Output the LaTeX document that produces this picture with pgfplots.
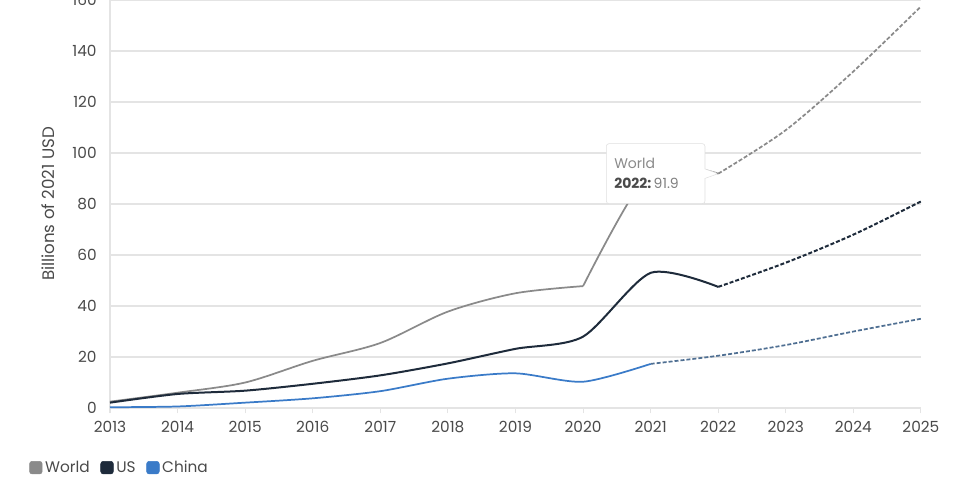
\documentclass[border=0pt]{standalone}
\usepackage{fontspec}
\setmainfont{Poppins}
\usepackage{pgfplots}
\pgfplotsset{compat=1.18}
\usetikzlibrary{shapes.callouts}
\definecolor{worldc}{HTML}{8A8A8A}
\definecolor{usc}{HTML}{1E2B3B}
\definecolor{chinac}{HTML}{3A7BC8}
\definecolor{chinad}{HTML}{4F6F92}
\definecolor{gridc}{HTML}{E4E4E4}
\definecolor{txtc}{HTML}{4A4A4A}
\begin{document}
\begin{tikzpicture}
\path[use as bounding box] (-82.5pt,-55.5pt) rectangle (652.5pt,306pt);
\clip (-82.5pt,-55.5pt) rectangle (652.5pt,306pt);
\begin{axis}[
  at={(0pt,0pt)}, anchor=south west,
  scale only axis, width=608.25pt, height=306pt,
  xmin=2013, xmax=2025, ymin=0, ymax=160,
  xtick={2013,...,2025}, ytick={0,20,...,160},
  axis x line=bottom, axis y line=left,
  axis line style={draw=gridc, line width=0.8pt, -},
  ymajorgrids, grid style={draw=gridc, line width=0.8pt},
  xtick style={draw=gridc, line width=0.8pt},
  ytick style={draw=none},
  tick align=outside, major tick length=4pt,
  /pgf/number format/assume math mode=true,
  /pgf/number format/1000 sep={},
  ticklabel style={font=\fontsize{11.5}{13}\selectfont, text=txtc},
  yticklabel style={xshift=-2.5pt},
  xticklabel style={yshift=-2pt},
  ylabel={Billions of 2021 USD},
  ylabel style={at={(axis description cs:-0.0765,0.5)}, anchor=center, font=\fontsize{12.5}{14}\selectfont, text=txtc},
  legend style={at={(axis description cs:-0.1048,-0.147)}, anchor=west, draw=none, fill=none,
    font=\fontsize{11.5}{13}\selectfont, text=txtc,
    /tikz/every even column/.append style={column sep=6pt}},
  legend columns=3, legend cell align=left,
  clip=false,
]
% World
\addplot[forget plot, worldc, line width=1.3pt, smooth, tension=0.5] coordinates {
 (2013,2.5) (2014,6) (2015,10) (2016,18.5) (2017,25.5) (2018,37.8) (2019,45) (2020,47.8)};
\addplot[forget plot, worldc, line width=1.3pt, smooth, tension=0.45] coordinates {
 (2020,47.8) (2021,93) (2022,91.9)};
\addplot[forget plot, worldc, line width=1.3pt, smooth, dash pattern=on 3pt off 1.5pt] coordinates {
 (2022,91.9) (2023,109) (2024,132) (2025,157.5)};
% US
\addplot[forget plot, usc, line width=1.5pt, smooth, tension=0.45] coordinates {
 (2013,2.1) (2014,5.5) (2015,6.8) (2016,9.5) (2017,12.8) (2018,17.5) (2019,23.2) (2020,28) (2021,53) (2022,47.5)};
\addplot[forget plot, usc, line width=1.5pt, smooth, dash pattern=on 3pt off 1.5pt] coordinates {
 (2022,47.5) (2023,57) (2024,68) (2025,81)};
% China
\addplot[forget plot, chinac, line width=1.3pt, smooth, tension=0.45] coordinates {
 (2013,0.3) (2014,0.6) (2015,2.1) (2016,3.8) (2017,6.6) (2018,11.5) (2019,13.6) (2020,10.3) (2021,17.3)};
\addplot[forget plot, chinad, line width=1.3pt, smooth, dash pattern=on 3pt off 1.5pt] coordinates {
 (2021,17.3) (2022,20.5) (2023,24.7) (2024,30) (2025,35)};
% tooltip
\node[rectangle callout, callout absolute pointer={(axis cs:2022,91.9)}, fill=white, draw=gray!25,
  rounded corners=2pt, minimum width=72.75pt, minimum height=45pt, anchor=east, align=left,
  text=txtc, font=\fontsize{10.5}{15}\selectfont, inner xsep=6pt, text width=62pt]
  at ([xshift=-9.75pt]axis cs:2022,91.9)
  {\textcolor{worldc}{World}\\\textbf{2022:}\,\textcolor{gray}{91.9}};
\addlegendimage{legend image code/.code={\fill[worldc, rounded corners=2pt] (0pt,-4.5pt) rectangle (9.5pt,5pt);}}
\addlegendentry{World}
\addlegendimage{legend image code/.code={\fill[usc, rounded corners=2pt] (0pt,-4.5pt) rectangle (9.5pt,5pt);}}
\addlegendentry{US}
\addlegendimage{legend image code/.code={\fill[chinac, rounded corners=2pt] (0pt,-4.5pt) rectangle (9.5pt,5pt);}}
\addlegendentry{China}
\end{axis}
\end{tikzpicture}
\end{document}
